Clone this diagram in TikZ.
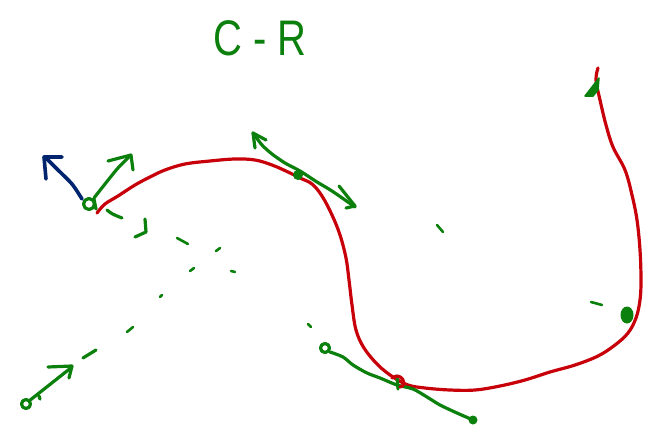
\documentclass[tikz,border=0pt]{standalone}
\usepackage{fontspec}
\setmainfont{Liberation Sans}
\definecolor{pg}{RGB}{12,128,12}
\definecolor{pr}{RGB}{200,0,10}
\definecolor{pn}{RGB}{0,36,110}
\begin{document}
\begin{tikzpicture}[x=1pt,y=-1pt,
  pen/.style={line width=3.2pt,line cap=round,line join=round},
  thin pen/.style={line width=2.6pt,line cap=round,line join=round},
  gpen/.style={pen,draw=pg},
  rpen/.style={pen,draw=pr},
  npen/.style={pen,draw=pn,line width=3.6pt}]
\useasboundingbox (0,0) rectangle (656,434);

% title
\node[text=pg,font=\fontsize{50}{50}\selectfont,xscale=0.8,inner sep=0] (title) at (260,38) {C - R};

% red curve
\draw[rpen] plot[smooth,tension=0.6] coordinates {
 (97,213) (105,204) (118,196) (135,185) (150,177) (165,170) (185,164)
 (210,161) (235,159) (255,160) (272,165) (288,172) (300,178) (312,184)
 (322,196) (332,215) (340,235) (346,258) (349,280) (352,305) (356,330)
 (364,348) (378,365) (393,377) (408,385) (425,388) (450,390) (475,390)
 (500,386) (525,380) (550,372) (575,365) (598,356) (615,345) (628,333)
 (636,318) (640,300) (641,280) (640,250) (637,220) (632,195) (625,170)
 (613,147) (606,125) (600,100) (596,80) (598,68)};

% left point: circle, navy and green arrows
\draw[gpen] (89,204) circle[radius=5.5];
\draw[gpen] (94,199) -- (96,209);
\draw[npen] plot[smooth] coordinates {(82,199) (72,184) (58,170) (45,157)};
\draw[npen] (46,179) -- (44,157) -- (62,157);
\draw[gpen] plot[smooth] coordinates {(94,198) (105,184) (118,168) (130,156)};
\draw[gpen] (108,161) -- (131,155) -- (133,170);

% dashed green line to lower left
\draw[gpen] (107,210) .. controls (112,214) .. (122,218);
\draw[gpen] (145,219) -- (146,232) -- (135,237);
\draw[thin pen,draw=pg] (177,238) -- (188,244);
\draw[thin pen,draw=pg] (216,251) -- (220,248);
\draw[thin pen,draw=pg] (190,271) -- (194,268);
\draw[thin pen,draw=pg] (231,271) -- (235,272);
\draw[thin pen,draw=pg] (160,297) -- (162,295);
\draw[thin pen,draw=pg] (127,332) -- (133,327);
\draw[gpen] (83,358) -- (96,350);
\draw[thin pen,draw=pg] (308,324) -- (311,327);
\draw[thin pen,draw=pg] (437,225) -- (443,232);

% lower left point with arrow
\draw[gpen] (26,404) circle[radius=4.5];
\draw[gpen] (29,401) -- (72,367);
\draw[gpen] (48,367) -- (72,366) -- (69,378);
\draw[gpen] (39,396) -- (40,399);

% tangent arrow at top middle
\fill[pg] (298,175) circle[radius=5];
\draw[gpen] plot[smooth] coordinates {(253,133) (262,145) (272,154) (285,163) (300,171) (317,182) (332,191) (355,207)};
\draw[gpen] (255,148) -- (253,133) -- (266,140);
\draw[gpen] (339,186) -- (355,206) -- (346,208);

% lower tangent line
\draw[gpen] (325,348) circle[radius=4.5];
\draw[gpen] plot[smooth] coordinates {(330,352) (343,357) (353,365) (367,373) (380,378) (397,385) (413,389) (427,397) (440,405) (457,413) (473,420)};
\fill[pg] (473,420) circle[radius=4.5];
\draw[gpen] (397,376) -- (398,389);
\draw[rpen] (392,378) .. controls (402,371) and (408,386) .. (400,387);

% right side point
\fill[pg] (627,315) ellipse[x radius=6.5,y radius=8.5];
\draw[thin pen,draw=pg] (591,302) -- (602,305);
\fill[pg,draw=pg,line width=1.5pt,line join=round] (585,96) -- (599,78) -- (598,90) -- (593,96) -- cycle;
\end{tikzpicture}
\end{document}
